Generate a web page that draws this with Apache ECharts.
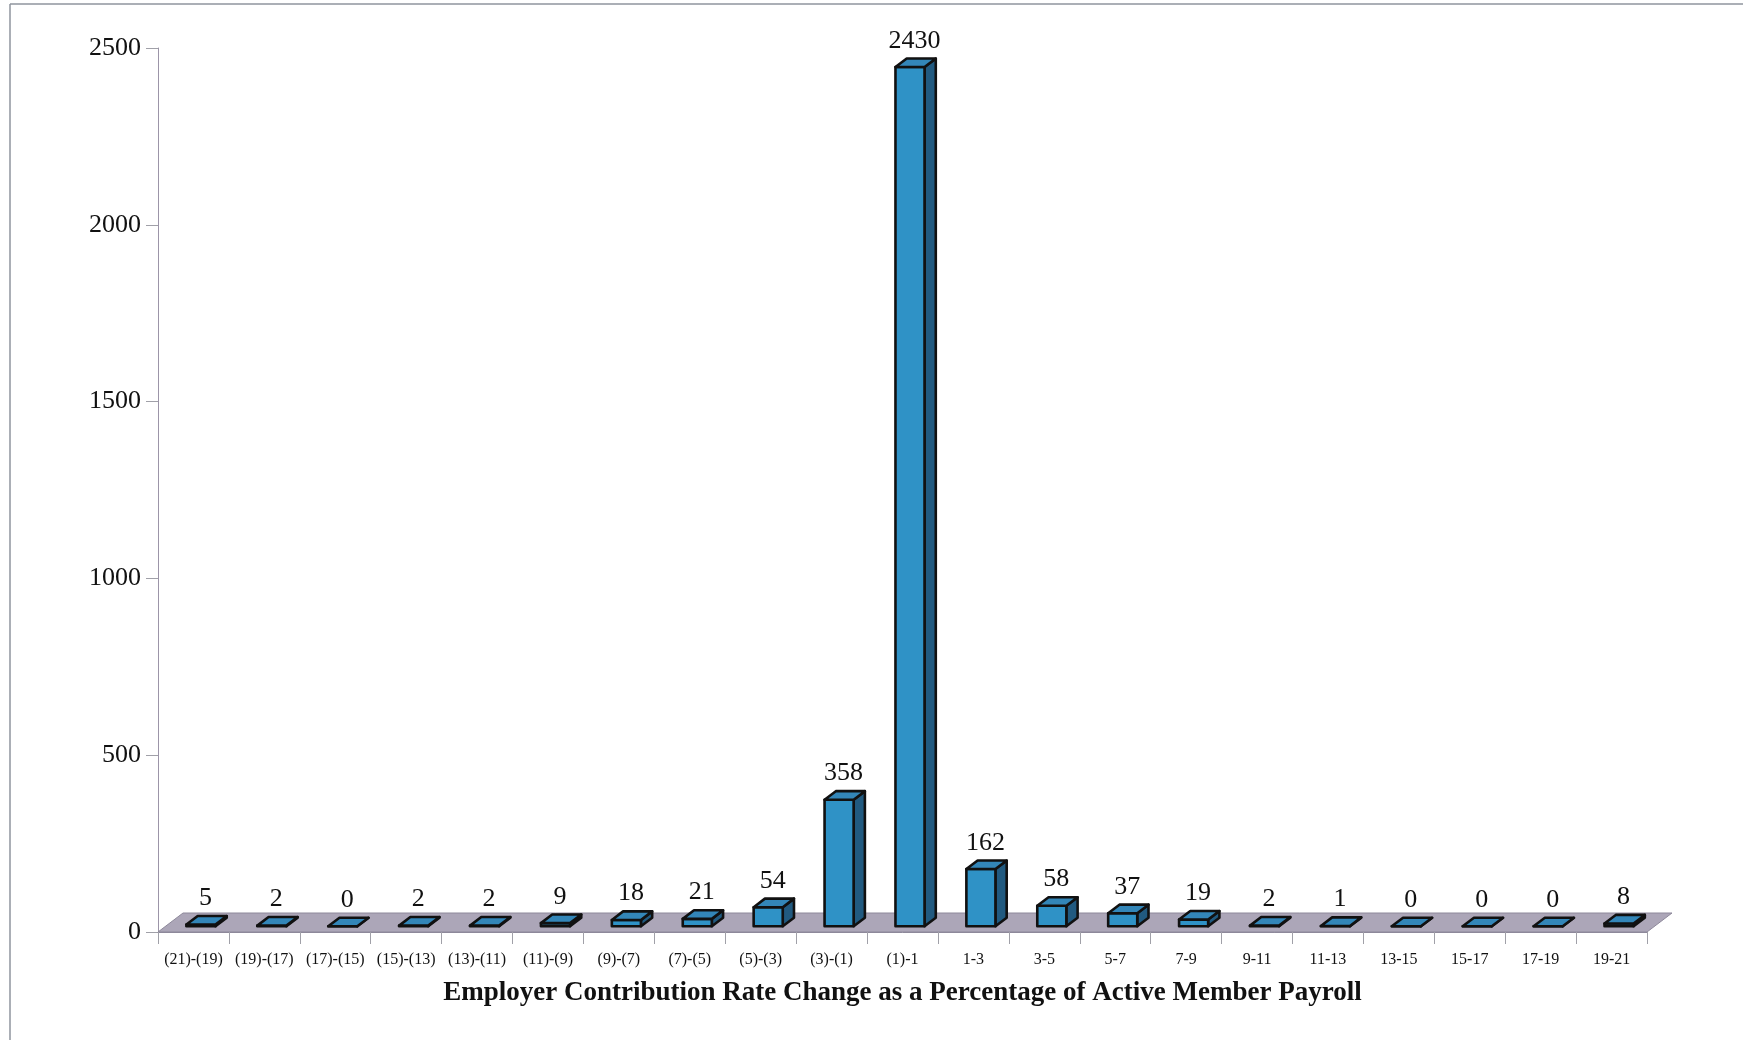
<!DOCTYPE html>
<html>
<head>
<meta charset="utf-8">
<title>Employer Contribution Rate Change</title>
<script src="https://cdn.jsdelivr.net/npm/echarts@6/dist/echarts.min.js"></script>
<style>
    html, body { margin: 0; padding: 0; background: #fff; }
    .chart { width: 1743px; height: 1046px; }
</style>
</head>
<body>
<div class="chart"></div>
<script>
// 数据
const categories = ['(21)-(19)', '(19)-(17)', '(17)-(15)', '(15)-(13)', '(13)-(11)', '(11)-(9)', '(9)-(7)',
    '(7)-(5)', '(5)-(3)', '(3)-(1)', '(1)-1', '1-3', '3-5', '5-7', '7-9', '9-11', '11-13', '13-15',
    '15-17', '17-19', '19-21']
const counts = [5, 2, 0, 2, 2, 9, 18, 21, 54, 358, 2430, 162, 58, 37, 19, 2, 1, 0, 0, 0, 8]
const axisTitle = 'Employer Contribution Rate Change as a Percentage of Active Member Payroll'

// 3D floor depth (px) and where the bars sit inside it
const floorDx = 25, floorDy = -19
const frontAt = 0.3, backAt = 0.75

;(function () {
    const myChart = echarts.init(document.querySelector('.chart'))

    // 地板
    function renderFloor(params, api) {
        const cs = params.coordSys
        const y0 = cs.y + cs.height
        return {
            type: 'polygon',
            shape: {
                points: [[cs.x, y0], [cs.x + cs.width, y0],
                    [cs.x + cs.width + floorDx, y0 + floorDy], [cs.x + floorDx, y0 + floorDy]]
            },
            style: { fill: '#aca6b8', stroke: '#8d889a', lineWidth: 1 }
        }
    }

    // 立体柱子
    function renderBar(params, api) {
        const base = api.coord([api.value(0), 0])
        const top = api.coord([api.value(0), api.value(1)])
        const w = api.size([1, 0])[0] * 0.41
        const fx = floorDx * frontAt, fy = floorDy * frontAt
        const dx = floorDx * (backAt - frontAt), dy = floorDy * (backAt - frontAt)
        const x0 = base[0] - w / 2 + fx, x1 = x0 + w
        const yb = base[1] + fy, yt = top[1] + fy
        const line = { stroke: '#111', lineWidth: 2.6, lineJoin: 'round' }
        return {
            type: 'group',
            children: [
                {
                    type: 'polygon',
                    shape: { points: [[x1, yb], [x1 + dx, yb + dy], [x1 + dx, yt + dy], [x1, yt]] },
                    style: Object.assign({ fill: '#215a80' }, line)
                },
                {
                    type: 'rect',
                    shape: { x: x0, y: yt, width: w, height: yb - yt },
                    style: Object.assign({ fill: '#2f92c6' }, line)
                },
                {
                    type: 'polygon',
                    shape: { points: [[x0, yt], [x1, yt], [x1 + dx, yt + dy], [x0 + dx, yt + dy]] },
                    style: Object.assign({ fill: '#3386b8' }, line)
                },
                {
                    type: 'text',
                    style: {
                        x: base[0] + 12,
                        y: top[1] - 32,
                        text: String(api.value(1)),
                        fill: '#111',
                        font: '26px "Liberation Serif"',
                        align: 'center',
                        verticalAlign: 'middle'
                    }
                }
            ]
        }
    }

    const option = {
        animation: false,
        textStyle: { fontFamily: 'Liberation Serif' },
        grid: { left: 158, right: 96, top: 48, bottom: 114 },
        graphic: [
            // 扫描件的边框
            { type: 'line', shape: { x1: 10, y1: 4, x2: 1743, y2: 4 }, style: { stroke: '#8f949e', lineWidth: 1.5 } },
            { type: 'line', shape: { x1: 10, y1: 4, x2: 10, y2: 1040 }, style: { stroke: '#8f949e', lineWidth: 1.5 } }
        ],
        xAxis: {
            type: 'category',
            data: categories,
            boundaryGap: true,
            axisLine: { show: true, lineStyle: { color: '#8d889a', width: 1 } },
            axisTick: { show: true, length: 12, lineStyle: { color: '#a0a0a8' } },
            axisLabel: { color: '#111', fontSize: 16, margin: 20, interval: 0 },
            name: axisTitle,
            nameLocation: 'middle',
            nameGap: 48,
            nameTextStyle: { color: '#111', fontSize: 27, fontWeight: 'bold' },
            z: 1
        },
        yAxis: {
            type: 'value',
            min: 0,
            max: 2500,
            interval: 500,
            axisLine: { show: true, lineStyle: { color: '#9c95a8', width: 1 } },
            axisTick: { show: true, length: 12, lineStyle: { color: '#a0a0a8' } },
            axisLabel: { color: '#111', fontSize: 26, margin: 17, formatter: v => String(v) },
            splitLine: { show: false }
        },
        series: [
            {
                type: 'custom',
                name: 'floor',
                renderItem: renderFloor,
                data: [0],
                z: 1,
                silent: true
            },
            {
                type: 'custom',
                name: 'count',
                renderItem: renderBar,
                encode: { x: 0, y: 1 },
                data: categories.map((c, i) => [i, counts[i]]),
                z: 3
            }
        ]
    }
    myChart.setOption(option)
})()
</script>
</body>
</html>
